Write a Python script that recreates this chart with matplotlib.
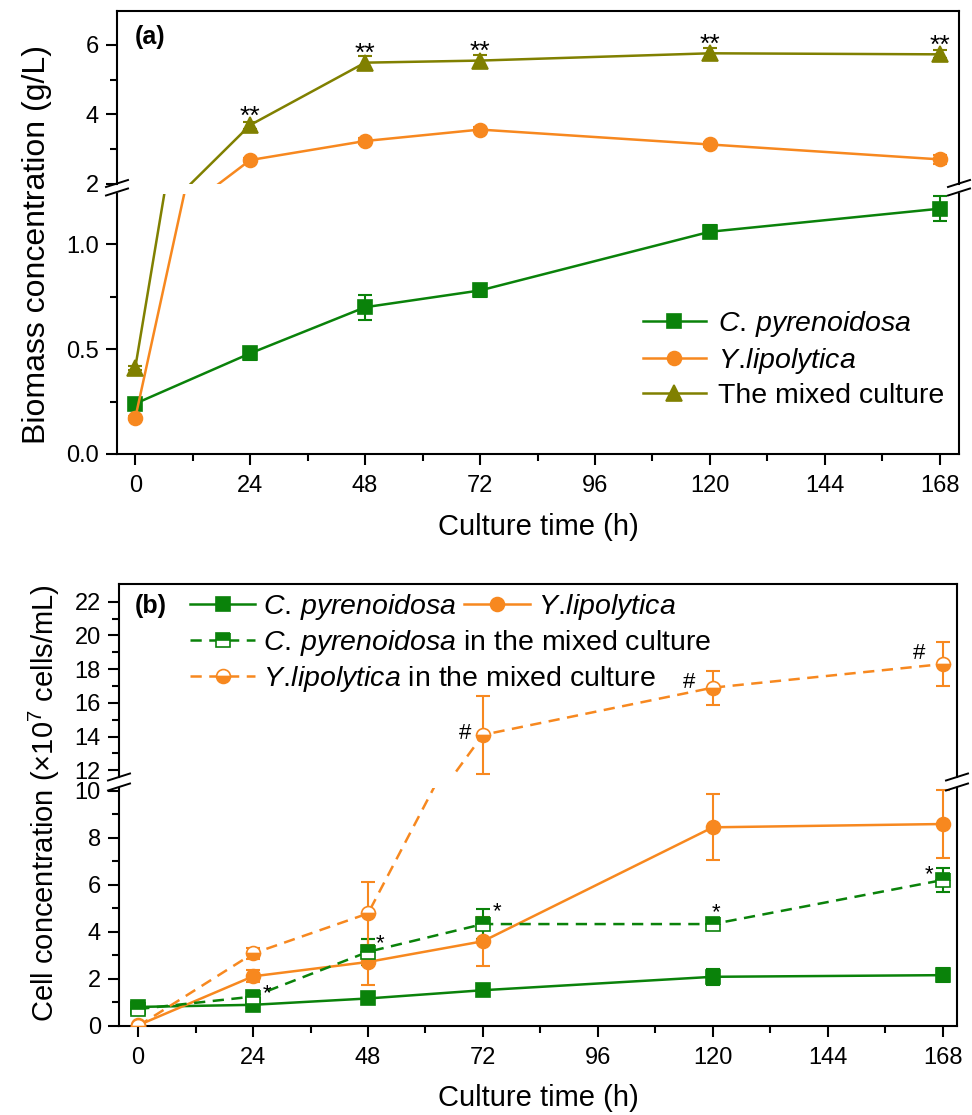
import matplotlib
matplotlib.use('Agg')
import matplotlib.pyplot as plt
from matplotlib.lines import Line2D
from matplotlib.ticker import FixedLocator, FormatStrFormatter

plt.rcParams['font.family'] = ['Liberation Sans', 'DejaVu Sans']
plt.rcParams['mathtext.fontset'] = 'custom'
plt.rcParams['mathtext.rm'] = 'Liberation Sans'
plt.rcParams['mathtext.it'] = 'Liberation Sans:italic'

hours = [0, 24, 48, 72, 120, 168]

# (a) biomass (g/L)
cp_bio = [0.24, 0.48, 0.70, 0.78, 1.06, 1.17]
cp_bio_err = [0.02, 0.03, 0.06, 0.03, 0.03, 0.06]
yl_bio = [0.17, 2.68, 3.23, 3.56, 3.13, 2.70]
yl_bio_err = [0.01, 0.06, 0.08, 0.06, 0.06, 0.12]
mix_bio = [0.41, 3.69, 5.49, 5.55, 5.76, 5.73]
mix_bio_err = [0.01, 0.10, 0.20, 0.15, 0.15, 0.12]
sig_a = ['', '**', '**', '**', '**', '**']

# (b) cell concentration (x10^7 cells/mL)
cp_cell = [0.81, 0.90, 1.17, 1.52, 2.09, 2.16]
cp_cell_err = [0.10, 0.15, 0.15, 0.12, 0.35, 0.30]
yl_cell = [0.03, 2.11, 2.72, 3.60, 8.44, 8.58]
yl_cell_err = [0.05, 0.25, 0.97, 1.05, 1.40, 1.43]
cpm_cell = [0.72, 1.25, 3.15, 4.33, 4.33, 6.20]
cpm_cell_err = [0.10, 0.20, 0.55, 0.65, 0.15, 0.50]
ylm_cell = [0.0, 3.08, 4.78, 14.1, 16.9, 18.3]
ylm_cell_err = [0.0, 0.25, 1.35, 2.30, 1.00, 1.30]
sig_cp = ['', '*', '*', '*', '*', '*']
sig_ylm = ['', '', '', '#', '#', '#']

CP = r'$\it{C.\!\ pyrenoidosa}$'
YL = r'$\it{Y.\!lipolytica}$'

GREEN = '#0a820a'
ORANGE = '#f7881f'
OLIVE = '#808000'

W, H = 972, 1115
fig = plt.figure(figsize=(W / 100, H / 100), dpi=100)


def box(l, t, r, b):
    return [l / W, 1 - b / H, (r - l) / W, (b - t) / H]


def fx(px):
    return px / W


def fy(py):
    return 1 - py / H


def slash(xc, yc):
    fig.add_artist(Line2D([fx(xc - 11), fx(xc + 11)], [fy(yc + 3.5), fy(yc - 3.5)],
                          transform=fig.transFigure, color='k', lw=1.4))


def style_axes(top, bot, xlim):
    for ax in (top, bot):
        ax.set_xlim(*xlim)
        ax.spines[:].set_linewidth(1.5)
        ax.tick_params(which='major', direction='out', length=8, width=1.5, labelsize=17, pad=5)
        ax.tick_params(which='minor', direction='out', length=5, width=1.5)
        ax.tick_params(axis='x', which='major', pad=7)
        ax.xaxis.set_major_locator(FixedLocator(range(0, 169, 24)))
        ax.xaxis.set_minor_locator(FixedLocator(range(12, 169, 24)))
        ax.tick_params(right=False, top=False, which='both')
    top.spines['bottom'].set_visible(False)
    bot.spines['top'].set_visible(False)
    top.tick_params(axis='x', which='both', bottom=False, labelbottom=False)


def series(axes, y, err, color, marker, label, ls='-', fill='full', ms=10):
    for i, ax in enumerate(axes):
        ax.errorbar(hours, y, yerr=err, fmt='none', ecolor=color, elinewidth=1.5,
                    capsize=5, capthick=1.5, zorder=2)
        ax.plot(hours, y, ls=ls, color=color, lw=1.8, marker=marker, ms=ms,
                fillstyle=fill, markerfacecoloralt='white', markeredgecolor=color,
                markeredgewidth=1.2, label=label if i == 1 else None, zorder=3,
                dashes=(4.5, 3) if ls == '--' else (None, None))


# ---------- panel (a)
a_top = fig.add_axes(box(117, 11, 959, 184))
a_bot = fig.add_axes(box(117, 194, 959, 454))
series((a_top, a_bot), cp_bio, cp_bio_err, GREEN, 's', CP)
series((a_top, a_bot), yl_bio, yl_bio_err, ORANGE, 'o', YL)
series((a_top, a_bot), mix_bio, mix_bio_err, OLIVE, '^', 'The mixed culture', ms=11)
style_axes(a_top, a_bot, (-3.8, 172))
a_top.set_ylim(1.99, 6.98)
a_top.yaxis.set_major_locator(FixedLocator([2, 4, 6]))
a_top.yaxis.set_minor_locator(FixedLocator([3, 5]))
a_top.yaxis.set_major_formatter(FormatStrFormatter('%d'))
a_bot.set_ylim(0, 1.24)
a_bot.yaxis.set_major_locator(FixedLocator([0, 0.5, 1.0]))
a_bot.yaxis.set_minor_locator(FixedLocator([0.25, 0.75]))
a_bot.yaxis.set_major_formatter(FormatStrFormatter('%.1f'))

for x, y, e, s in zip(hours, mix_bio, mix_bio_err, sig_a):
    if s:
        a_top.annotate(s, (x, y), xytext=(0, 1), textcoords='offset points',
                       ha='center', va='baseline', fontsize=19)

a_bot.legend(loc='upper left', bbox_to_anchor=(fx(643), fy(309)),
             bbox_transform=fig.transFigure, frameon=False, fontsize=20.5,
             handlelength=2.2, handletextpad=0.42, labelspacing=0.24,
             borderpad=0, borderaxespad=0)

fig.text(fx(135), fy(37), '(a)', fontsize=18, fontweight='bold', ha='left', va='center')
fig.text(fx(37), fy(244), 'Biomass concentration (g/L)', fontsize=23, rotation=90,
         ha='center', va='center')
fig.text(fx(538), fy(527), 'Culture time (h)', fontsize=21, ha='center', va='center')
for xc in (117, 959):
    slash(xc, 183.5)
    slash(xc, 192)

# ---------- panel (b)
b_top = fig.add_axes(box(119, 584, 957, 777))
b_bot = fig.add_axes(box(119, 788, 957, 1026))
series((b_top, b_bot), cp_cell, cp_cell_err, GREEN, 's', CP)
series((b_top, b_bot), yl_cell, yl_cell_err, ORANGE, 'o', YL)
series((b_top, b_bot), cpm_cell, cpm_cell_err, GREEN, 's',
       CP + ' in the mixed culture', ls='--', fill='top')
series((b_top, b_bot), ylm_cell, ylm_cell_err, ORANGE, 'o',
       YL + ' in the mixed culture', ls='--', fill='bottom')
style_axes(b_top, b_bot, (-4, 171))
b_top.set_ylim(11.6, 23.05)
b_top.yaxis.set_major_locator(FixedLocator(range(12, 23, 2)))
b_top.yaxis.set_minor_locator(FixedLocator(range(13, 22, 2)))
b_bot.set_ylim(0, 10.11)
b_bot.yaxis.set_major_locator(FixedLocator(range(0, 11, 2)))
b_bot.yaxis.set_minor_locator(FixedLocator(range(1, 10, 2)))

cp_offsets = [(0, 0), (10, 6), (9, 10), (10, 13), (2, 12), (-10, 8)]
for x, y, s, off in zip(hours, cpm_cell, sig_cp, cp_offsets):
    if s:
        b_bot.annotate(s, (x, y), xytext=(off[0], off[1] - 8), textcoords='offset points',
                       ha='center', va='baseline', fontsize=16)
yl_offsets = [(0, 0), (0, 0), (0, 0), (-13, 2), (-17, 5), (-17, 9)]
for x, y, s, off in zip(hours, ylm_cell, sig_ylm, yl_offsets):
    if s:
        b_top.annotate(s, (x, y), xytext=(off[0], off[1] - 5), textcoords='offset points',
                       ha='center', va='baseline', fontsize=16)

h, l = b_bot.get_legend_handles_labels()
leg1 = b_bot.legend(h[:2], l[:2], loc='upper left', bbox_to_anchor=(fx(190), fy(592)),
                    bbox_transform=fig.transFigure, frameon=False, fontsize=20.5, ncol=2,
                    handlelength=2.3, handletextpad=0.28, columnspacing=0.25,
                    borderpad=0, borderaxespad=0)
b_bot.add_artist(leg1)
b_bot.legend(h[2:], l[2:], loc='upper left', bbox_to_anchor=(fx(190), fy(628)),
             bbox_transform=fig.transFigure, frameon=False, fontsize=20.5,
             handlelength=2.3, handletextpad=0.28, labelspacing=0.2,
             borderpad=0, borderaxespad=0)

fig.text(fx(135), fy(606), '(b)', fontsize=18, fontweight='bold', ha='left', va='center')
fig.text(fx(44), fy(803), r'Cell concentration (×10$^{7}$ cells/mL)', fontsize=21,
         rotation=90, ha='center', va='center')
fig.text(fx(538), fy(1098), 'Culture time (h)', fontsize=21, ha='center', va='center')
for xc in (119, 957):
    slash(xc, 777)
    slash(xc, 787)

fig.savefig('out.png', dpi=100)
